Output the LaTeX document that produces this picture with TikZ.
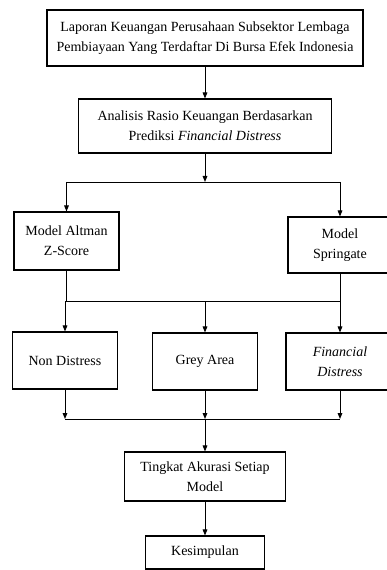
\documentclass[tikz,border=0pt]{standalone}
\usepackage{fontspec}
\setmainfont{Liberation Serif}
\usetikzlibrary{arrows.meta}
\begin{document}
\begin{tikzpicture}[x=0.75pt,y=-0.75pt,
  box/.style={draw,line width=0.8pt,align=center,inner sep=0pt,
    font=\fontsize{10.5}{15}\selectfont},
  flow/.style={-{Triangle[length=4.5pt,width=3.5pt]},line width=0.7pt}]
  \useasboundingbox (0,0) rectangle (386,570);

  % Boxes
  \node[box,minimum width=237pt,minimum height=42pt] (lap) at (205,38)
    {Laporan Keuangan Perusahaan Subsektor Lembaga\\Pembiayaan Yang Terdaftar Di Bursa Efek Indonesia};
  \node[box,minimum width=189.75pt,minimum height=40.5pt] (ana) at (205,126)
    {Analisis Rasio Keuangan Berdasarkan\\Prediksi \textit{Financial Distress}};
  \node[box,minimum width=78.75pt,minimum height=43.5pt] (alt) at (66.5,241)
    {Model Altman\\Z-Score};
  \node[box,minimum width=78pt,minimum height=42pt] (spr) at (340,245)
    {Model\\Springate};
  \node[box,minimum width=78.75pt,minimum height=42.75pt] (non) at (65,360.5)
    {Non Distress};
  \node[box,minimum width=78.75pt,minimum height=42.75pt] (grey) at (205,361.5)
    {Grey Area};
  \node[box,minimum width=81pt,minimum height=42.75pt] (fin) at (340,361.5)
    {\textit{Financial}\\\textit{Distress}};
  \node[box,minimum width=120.75pt,minimum height=36.75pt] (tin) at (205,476.5)
    {Tingkat Akurasi Setiap\\Model};
  \node[box,minimum width=89.25pt,minimum height=24.75pt] (kes) at (205,552.5)
    {Kesimpulan};

  % Branch points
  \coordinate (split1) at (205,182);
  \coordinate (split2) at (205,301);
  \coordinate (merge) at (205,419);

  % Connectors
  \draw[flow] (lap) -- (ana);
  \draw[flow] (ana) -- (split1);
  \draw[line width=0.7pt] (alt.north |- split1) -- (spr.north |- split1);
  \draw[flow] (alt.north |- split1) -- (alt.north);
  \draw[flow] (spr.north |- split1) -- (spr.north);

  \draw[line width=0.7pt] (alt.south) -- (alt.south |- split2) -- (spr.south |- split2) -- (spr.south);
  \foreach \n in {non,grey,fin}
    \draw[flow] (\n.north |- split2) -- (\n.north);

  \foreach \n in {non,grey,fin}
    \draw[flow] (\n.south) -- (\n.south |- merge);
  \draw[line width=0.7pt] (non.south |- merge) -- (fin.south |- merge);
  \draw[flow] (merge) -- (tin);
  \draw[flow] (tin) -- (kes);
\end{tikzpicture}
\end{document}
